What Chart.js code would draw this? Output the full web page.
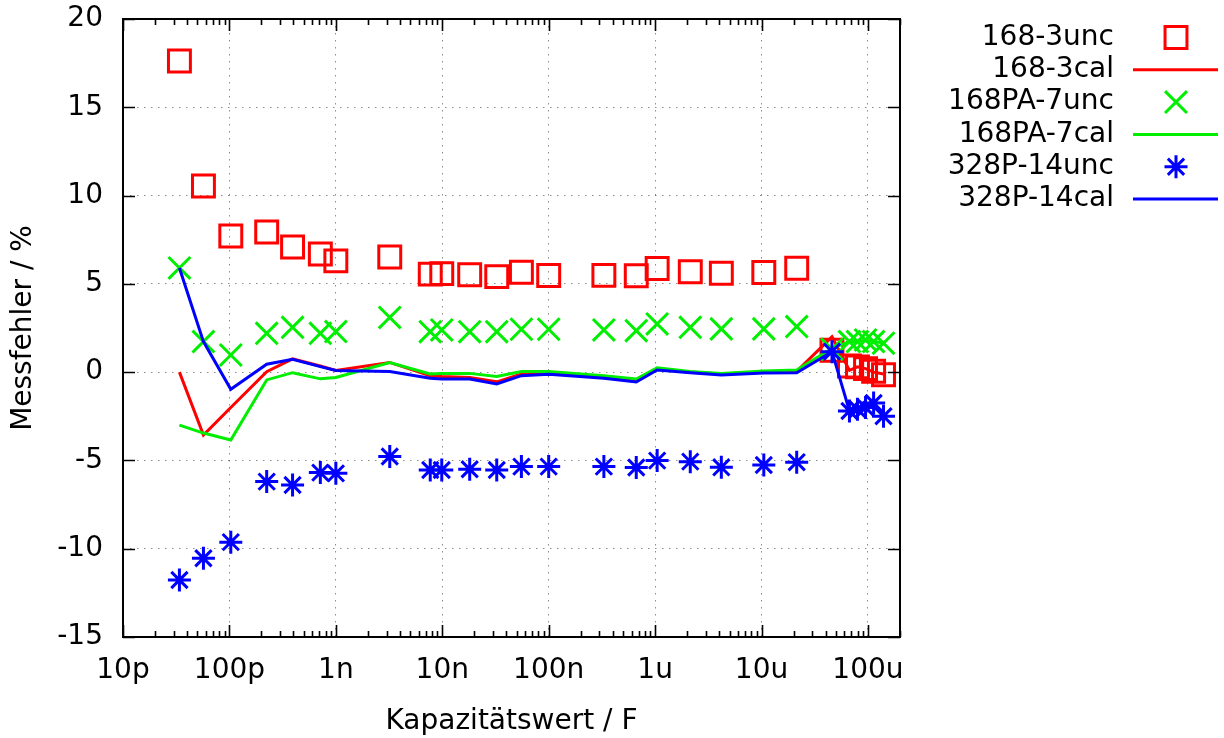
<!DOCTYPE html>
<html>
<head>
<meta charset="utf-8">
<script src="https://cdn.jsdelivr.net/npm/chart.js@4/dist/chart.umd.min.js"></script>
<style>
html,body{margin:0;padding:0;background:#fff;}
#wrap{width:1224px;height:738px;position:relative;}
</style>
</head>
<body>
<div id="wrap"><canvas id="c" width="1224" height="738"></canvas></div>
<script>
// ---- data ----
const capacitance = [3.39e-11, 5.70e-11, 1.03e-10, 2.24e-10, 3.92e-10, 7.15e-10, 1.0e-9, 3.21e-9,
  7.71e-9, 9.89e-9, 1.81e-8, 3.25e-8, 5.54e-8, 1.0e-7, 3.30e-7, 6.65e-7, 1.045e-6, 2.14e-6,
  4.19e-6, 1.05e-5, 2.14e-5, 4.59e-5, 6.70e-5, 7.97e-5, 9.49e-5, 1.13e-4, 1.40e-4];

const err168_3unc = [17.62, 10.54, 7.71, 7.94, 7.09, 6.69, 6.30, 6.52, 5.55, 5.58, 5.52, 5.41, 5.66,
  5.47, 5.48, 5.46, 5.87, 5.69, 5.60, 5.64, 5.88, 1.24, 0.35, 0.30, 0.20, 0.05, -0.15];
const err168_3cal = [0.0, -3.56, -2.0, 0.03, 0.75, 0.35, 0.10, 0.55, -0.20, -0.25, -0.30, -0.55, -0.10,
  -0.05, -0.30, -0.45, 0.20, 0.0, -0.10, 0.0, 0.05, 2.0, 0.10, 0.30, 0.20, 0.0, -0.10];
const err168PA_7unc = [5.9, 1.73, 0.97, 2.2, 2.54, 2.2, 2.3, 3.1, 2.29, 2.39, 2.29, 2.29, 2.43, 2.43,
  2.39, 2.35, 2.73, 2.54, 2.45, 2.45, 2.58, 1.3, 1.73, 1.73, 1.82, 1.73, 1.64];
const err168PA_7cal = [-3.0, -3.45, -3.84, -0.44, -0.03, -0.38, -0.30, 0.54, -0.10, -0.07, -0.07, -0.25,
  0.03, 0.03, -0.20, -0.39, 0.25, 0.04, -0.08, 0.07, 0.12, 1.35, 1.73, 1.73, 1.80, 1.73, 1.65];
const err328P_14unc = [-11.77, -10.54, -9.63, -6.2, -6.39, -5.69, -5.73, -4.78, -5.54, -5.54, -5.5,
  -5.54, -5.35, -5.35, -5.35, -5.4, -5.01, -5.07, -5.39, -5.26, -5.1, 1.16, -2.2, -2.1, -2.0, -1.75, -2.5];
const err328P_14cal = [5.9, 1.73, -0.97, 0.45, 0.73, 0.31, 0.09, 0.03, -0.35, -0.39, -0.39, -0.67,
  -0.20, -0.12, -0.35, -0.56, 0.12, -0.04, -0.16, -0.05, -0.03, 1.16, -2.2, -2.1, -2.0, -1.8, -2.45];

const seriesNames = ["168-3unc", "168-3cal", "168PA-7unc", "168PA-7cal", "328P-14unc", "328P-14cal"];

const xTickValues = [1e-11, 1e-10, 1e-9, 1e-8, 1e-7, 1e-6, 1e-5, 1e-4];
const xTickLabels = ["10p", "100p", "1n", "10n", "100n", "1u", "10u", "100u"];
const yTickValues = [-15, -10, -5, 0, 5, 10, 15, 20];
const yTickLabels = ["-15", "-10", "-5", "0", "5", "10", "15", "20"];

const X_MIN = 1e-11, X_MAX = 2e-4, Y_MIN = -15, Y_MAX = 20;

// ---- build ----
const RED = '#ff0000', GREEN = '#00ee00', BLUE = '#0000ff';
const FONT = '"DejaVu Sans", "Liberation Sans", sans-serif';
const FSIZE = 28;
const pts = (ys) => ys.map((y, i) => ({x: capacitance[i], y}));

function markerSet(label, ys, color, style, r) {
  return {label, data: pts(ys), showLine: false, pointStyle: style, pointRadius: r,
    pointHoverRadius: r, pointBorderWidth: 3, pointBorderColor: color,
    pointBackgroundColor: 'rgba(0,0,0,0)', borderColor: color, backgroundColor: 'rgba(0,0,0,0)'};
}
function lineSet(label, ys, color) {
  return {label, data: pts(ys), showLine: true, pointRadius: 0, pointHoverRadius: 0,
    borderWidth: 3, borderColor: color, backgroundColor: color, tension: 0};
}
const datasets = [
  markerSet(seriesNames[0], err168_3unc, RED, 'rect', 15.5),
  lineSet(seriesNames[1], err168_3cal, RED),
  markerSet(seriesNames[2], err168PA_7unc, GREEN, 'crossRot', 15.5),
  lineSet(seriesNames[3], err168PA_7cal, GREEN),
  markerSet(seriesNames[4], err328P_14unc, BLUE, 'star', 11.5),
  lineSet(seriesNames[5], err328P_14cal, BLUE)
];
datasets.forEach((d, i) => d.order = datasets.length - i);

function drawMarker(ctx, style, x, y, r) {
  ctx.beginPath();
  if (style === 'rect') {
    const s = Math.SQRT1_2 * r;
    ctx.rect(x - s, y - s, 2 * s, 2 * s);
  } else {
    const d = Math.SQRT1_2 * r;
    ctx.moveTo(x - d, y - d); ctx.lineTo(x + d, y + d);
    ctx.moveTo(x - d, y + d); ctx.lineTo(x + d, y - d);
    if (style === 'star') {
      ctx.moveTo(x - r, y); ctx.lineTo(x + r, y);
      ctx.moveTo(x, y - r); ctx.lineTo(x, y + r);
    }
  }
  ctx.stroke();
}

const framePlugin = {
  id: 'gnuFrame',
  afterDatasetsDraw(chart) {
    const {ctx, chartArea: a, scales} = chart;
    ctx.save();
    ctx.strokeStyle = '#000';
    ctx.lineWidth = 1.6;
    ctx.setLineDash([]);
    ctx.beginPath();
    yTickValues.forEach(v => {
      const py = Math.round(scales.y.getPixelForValue(v)) + 0.5;
      ctx.moveTo(a.left, py); ctx.lineTo(a.left + 12, py);
      ctx.moveTo(a.right, py); ctx.lineTo(a.right - 12, py);
    });
    for (let e = -11; e <= -4; e++) {
      for (let m = 1; m <= 9; m++) {
        const v = m * Math.pow(10, e);
        if (v < X_MIN * 0.999 || v > X_MAX * 1.001) continue;
        const px = Math.round(scales.x.getPixelForValue(v)) + 0.5;
        const len = m === 1 ? 12 : 6;
        ctx.moveTo(px, a.bottom); ctx.lineTo(px, a.bottom - len);
        ctx.moveTo(px, a.top); ctx.lineTo(px, a.top + len);
      }
    }
    ctx.stroke();
    ctx.lineWidth = 2;
    ctx.strokeRect(a.left, a.top, a.right - a.left, a.bottom - a.top);
    ctx.restore();
  },
  afterDraw(chart) {
    const ctx = chart.ctx;
    ctx.save();
    chart.data.datasets.forEach((ds, i) => {
      const y = 37.5 + i * 32.3;
      ctx.font = FSIZE + 'px ' + FONT;
      ctx.fillStyle = '#000';
      ctx.textAlign = 'right';
      ctx.textBaseline = 'middle';
      ctx.fillText(ds.label, 1114, y);
      ctx.strokeStyle = ds.borderColor;
      if (ds.showLine) {
        ctx.lineWidth = ds.borderWidth;
        ctx.beginPath(); ctx.moveTo(1133, y); ctx.lineTo(1218, y); ctx.stroke();
      } else {
        ctx.lineWidth = ds.pointBorderWidth;
        drawMarker(ctx, ds.pointStyle, 1176, y, ds.pointRadius);
      }
    });
    ctx.restore();
  }
};

new Chart(document.getElementById('c'), {
  type: 'scatter',
  data: {datasets},
  options: {
    responsive: false,
    animation: false,
    devicePixelRatio: 1,
    layout: {padding: {left: 0, top: 19, right: 324, bottom: 0}},
    plugins: {legend: {display: false}, tooltip: {enabled: false}},
    scales: {
      x: {
        type: 'logarithmic', min: X_MIN, max: X_MAX,
        afterBuildTicks(scale) { scale.ticks = xTickValues.map(v => ({value: v})); },
        afterFit(scale) { scale.height = 101; scale.paddingLeft = 0; scale.paddingRight = 0; },
        ticks: {
          autoSkip: false, maxRotation: 0, padding: 17, color: '#000',
          font: {family: FONT, size: FSIZE},
          callback(v) { const i = xTickValues.findIndex(t => Math.abs(t - v) / t < 1e-6); return i >= 0 ? xTickLabels[i] : ''; }
        },
        grid: {color: 'rgba(0,0,0,0.45)', lineWidth: 1, drawTicks: false},
        border: {display: false, dash: [1.5, 5.5]},
        title: {display: true, text: 'Kapazitätswert / F', color: '#000',
          font: {family: FONT, size: FSIZE}, padding: {top: 0, bottom: -1}}
      },
      y: {
        type: 'linear', min: Y_MIN, max: Y_MAX,
        afterBuildTicks(scale) { scale.ticks = yTickValues.map(v => ({value: v})); },
        afterFit(scale) { scale.width = 123; scale.paddingTop = 0; scale.paddingBottom = 0; },
        ticks: {
          padding: 20, color: '#000', font: {family: FONT, size: FSIZE},
          callback(v) { const i = yTickValues.indexOf(v); return i >= 0 ? yTickLabels[i] : ''; }
        },
        grid: {color: 'rgba(0,0,0,0.45)', lineWidth: 1, drawTicks: false},
        border: {display: false, dash: [1.5, 5.5]},
        title: {display: true, text: 'Messfehler / %', color: '#000',
          font: {family: FONT, size: FSIZE}, padding: {top: 7, bottom: 0}}
      }
    }
  },
  plugins: [framePlugin]
});
</script>
</body>
</html>
